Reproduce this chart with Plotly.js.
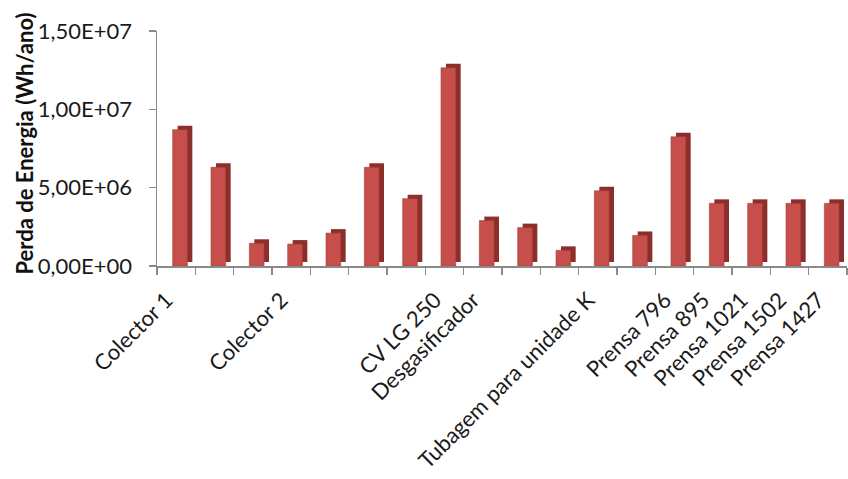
<!DOCTYPE html>
<html>
<head>
<meta charset="utf-8">
<script src="https://cdn.plot.ly/plotly-3.0.1.min.js"></script>
<style>
  html, body { margin: 0; padding: 0; background: #ffffff; }
  #chart { width: 848px; height: 479px; }
</style>
</head>
<body>
<div id="chart"></div>
<script>
// Category names (blank where no label is printed under the column)
const categories = [
  "Colector 1", "", "", "Colector 2", "", "", "",
  "CV LG 250", "Desgasificador", "", "",
  "Tubagem para unidade K", "",
  "Prensa 796", "Prensa 895", "Prensa 1021", "Prensa 1502", "Prensa 1427"
];

// Energy loss per item (Wh/ano)
const perdaEnergia = [
  8.7e6, 6.3e6, 1.45e6, 1.4e6, 2.1e6, 6.3e6, 4.3e6,
  1.265e7, 2.9e6, 2.45e6, 1.0e6,
  4.8e6, 1.95e6,
  8.25e6, 4.0e6, 4.0e6, 4.0e6, 4.0e6
];

// Value axis ticks
const yTickVals = [0, 5e6, 1e7, 1.5e7];
const yTickText = ["0,00E+00", "5,00E+06", "1,00E+07", "1,50E+07"];

const xIdx = categories.map((_, i) => i);
const labelIdx = xIdx.filter(i => categories[i] !== "");
const labelText = labelIdx.map(i => categories[i]);
const boundaries = categories.map((_, i) => i - 0.5).concat([categories.length - 0.5]);

// rotated labels sit a little left of the column centre
const labelShift = -0.25;

// depth of the pseudo-3D column (value units) seen as the dark side/top
const depth = 0.255e6;

const sideTrace = {
  type: "bar",
  x: xIdx,
  y: perdaEnergia,
  base: perdaEnergia.map(() => depth),
  width: 0.383,
  offset: 0.039,
  marker: { color: "#8c2f2c", line: { width: 0 } },
  hoverinfo: "skip",
  showlegend: false
};

const frontTrace = {
  type: "bar",
  x: xIdx,
  y: perdaEnergia,
  width: 0.383,
  offset: -0.091,
  marker: { color: "#c64f4b", line: { width: 0.6, color: "#a33c39" } },
  showlegend: false
};

const font = "Lato, 'Open Sans', sans-serif";

const layout = {
  width: 848,
  height: 479,
  margin: { l: 157, r: 1, t: 31, b: 213 },
  paper_bgcolor: "#ffffff",
  plot_bgcolor: "#ffffff",
  barmode: "overlay",
  font: { family: font, color: "#1a1a1a" },
  xaxis: {
    range: [-0.5, categories.length - 0.5],
    tickmode: "array",
    tickvals: labelIdx.map(i => i + labelShift),
    ticktext: labelText,
    tickangle: -45,
    ticks: "",
    ticklabelstandoff: 11,
    tickfont: { size: 22, family: font, color: "#1a1a1a" },
    showline: true,
    linecolor: "#8a8a8a",
    linewidth: 1.5,
    showgrid: false,
    zeroline: false,
    fixedrange: true,
    minor: {
      tickmode: "array",
      tickvals: boundaries,
      ticks: "outside",
      ticklen: 7,
      tickcolor: "#8a8a8a",
      tickwidth: 1.2,
      showgrid: false
    }
  },
  yaxis: {
    range: [0, 1.5e7],
    tickmode: "array",
    tickvals: yTickVals,
    ticktext: yTickText,
    ticks: "outside",
    ticklen: 7,
    tickcolor: "#8a8a8a",
    tickwidth: 1.2,
    ticklabelstandoff: 12,
    tickfont: { size: 22, family: font, color: "#1a1a1a" },
    showline: true,
    linecolor: "#8a8a8a",
    linewidth: 1.5,
    showgrid: false,
    zeroline: false,
    fixedrange: true
  },
  annotations: [{
    // value-axis title
    text: "<b>Perda de Energia (Wh/ano)</b>",
    textangle: -90,
    xref: "paper", yref: "paper",
    x: -0.1913, y: 0.521,
    xanchor: "center", yanchor: "middle",
    showarrow: false,
    font: { size: 22, family: font, color: "#111111" }
  }]
};

Plotly.newPlot("chart", [sideTrace, frontTrace], layout, { displayModeBar: false, staticPlot: true });
</script>
</body>
</html>
